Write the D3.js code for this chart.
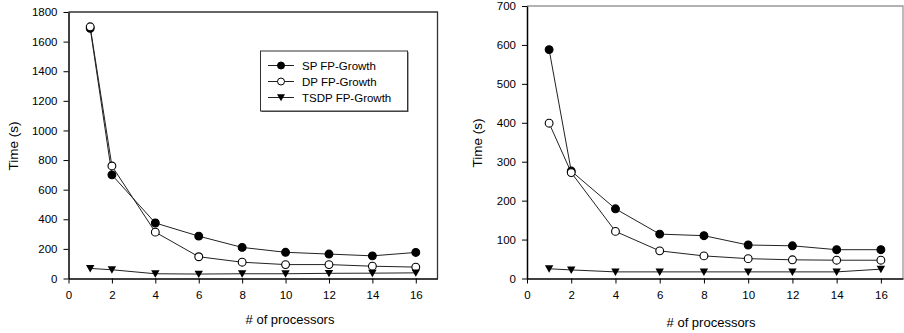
<!DOCTYPE html>
<html><head><meta charset="utf-8">
<script src="https://cdn.jsdelivr.net/npm/d3@7"></script>
<style>body{margin:0;background:#fff}svg{display:block}text{font-family:"Liberation Sans",Arial,sans-serif;fill:#000}</style>
</head><body><svg id="c" width="904" height="333"></svg>
<script>
const processors = [1, 2, 4, 6, 8, 10, 12, 14, 16];
const seriesNames = ["SP FP-Growth", "DP FP-Growth", "TSDP FP-Growth"];
const leftSP   = [1690, 700, 375, 286, 210, 177, 165, 153, 176];
const leftDP   = [1700, 760, 313, 147, 110, 94, 94, 83, 77];
const leftTSDP = [68, 59, 32, 30, 32, 32, 35, 36, 38];
const rightSP   = [588, 276, 179, 114, 110, 86, 84, 74, 74];
const rightDP   = [399, 272, 121, 71, 58, 51, 48, 47, 47];
const rightTSDP = [25, 22, 17, 17, 17, 17, 17, 17, 24];
const xTicks = [0, 2, 4, 6, 8, 10, 12, 14, 16];
const leftYTicks = [0, 200, 400, 600, 800, 1000, 1200, 1400, 1600, 1800];
const rightYTicks = [0, 100, 200, 300, 400, 500, 600, 700];

const svg = d3.select("#c");

function drawChart(o) {
  const x = d3.scaleLinear().domain([0, 17]).range([o.x0, o.x1]);
  const y = d3.scaleLinear().domain([0, o.ymax]).range([o.y0, o.y1]);
  const g = svg.append("g");
  g.append("path").attr("d", `M${o.x0},${o.y1}H${o.x1}V${o.y0}`)
    .attr("fill", "none").attr("stroke", o.frameColor).attr("stroke-width", 1.3);
  const xa = g.append("g").attr("transform", `translate(0,${o.y0})`)
    .call(d3.axisBottom(x).tickValues(xTicks).tickFormat(d3.format("d")).tickSize(5).tickPadding(7).tickSizeOuter(0));
  const ya = g.append("g").attr("transform", `translate(${o.x0},0)`)
    .call(d3.axisLeft(y).tickValues(o.yTicks).tickFormat(d3.format("d")).tickSize(5).tickPadding(6).tickSizeOuter(0));
  [xa, ya].forEach(a => {
    a.select(".domain").attr("stroke", "#000").attr("stroke-width", 1.5);
    a.selectAll(".tick line").attr("stroke", "#000");
    a.selectAll("text").attr("font-size", 11.5).attr("font-family", "Liberation Sans, Arial, sans-serif");
  });
  g.append("text").attr("x", o.xtX).attr("y", o.xtY).attr("text-anchor", "middle")
    .attr("font-size", 13).text("# of processors");
  g.append("text").attr("transform", `translate(${o.ytX},${o.ytY}) rotate(-90)`)
    .attr("text-anchor", "middle").attr("font-size", 13.5).text("Time (s)");
  const line = d3.line().x((d, i) => x(processors[i])).y(d => y(d));
  const series = [
    {v: o.sp, kind: "fill"},
    {v: o.dp, kind: "open"},
    {v: o.ts, kind: "tri"}
  ];
  series.forEach(s => {
    g.append("path").attr("d", line(s.v)).attr("fill", "none").attr("stroke", "#222").attr("stroke-width", 1);
  });
  series.forEach(s => {
    s.v.forEach((d, i) => marker(g, s.kind, x(processors[i]), y(d)));
  });
}

function marker(g, kind, cx, cy) {
  if (kind === "tri") {
    g.append("path").attr("d", `M${cx - 4.2},${cy - 3.4}L${cx + 4.2},${cy - 3.4}L${cx},${cy + 4}Z`).attr("fill", "#000");
  } else {
    g.append("circle").attr("cx", cx).attr("cy", cy).attr("r", 3.9)
      .attr("fill", kind === "fill" ? "#000" : "#fff").attr("stroke", "#000").attr("stroke-width", 1.1);
  }
}

drawChart({x0: 68.5, x1: 437.5, y0: 278.5, y1: 12, ymax: 1800, yTicks: leftYTicks,
  sp: leftSP, dp: leftDP, ts: leftTSDP, frameColor: "#333", xtX: 290, xtY: 324, ytX: 18, ytY: 146});
drawChart({x0: 527, x1: 903, y0: 278.5, y1: 6, ymax: 700, yTicks: rightYTicks,
  sp: rightSP, dp: rightDP, ts: rightTSDP, frameColor: "#999", xtX: 711, xtY: 327, ytX: 482, ytY: 143});

// legend (left chart)
const lg = svg.append("g");
lg.append("rect").attr("x", 261.5).attr("y", 52).attr("width", 147).attr("height", 60).attr("fill", "#555");
lg.append("rect").attr("x", 260.5).attr("y", 51).attr("width", 147).attr("height", 60)
  .attr("fill", "#fff").attr("stroke", "#333").attr("stroke-width", 1);
const kinds = ["fill", "open", "tri"];
seriesNames.forEach((n, i) => {
  const yy = 65.5 + i * 16;
  lg.append("line").attr("x1", 268).attr("x2", 294).attr("y1", yy).attr("y2", yy).attr("stroke", "#222");
  if (kinds[i] === "tri") {
    lg.append("path").attr("d", `M${277},${yy - 3.3}L${285},${yy - 3.3}L${281},${yy + 3.7}Z`).attr("fill", "#000");
  } else {
    lg.append("circle").attr("cx", 281).attr("cy", yy).attr("r", 3.5)
      .attr("fill", kinds[i] === "fill" ? "#000" : "#fff").attr("stroke", "#000");
  }
  lg.append("text").attr("x", 302).attr("y", yy + 4.5).attr("font-size", 11.5).text(n);
});
</script></body></html>
